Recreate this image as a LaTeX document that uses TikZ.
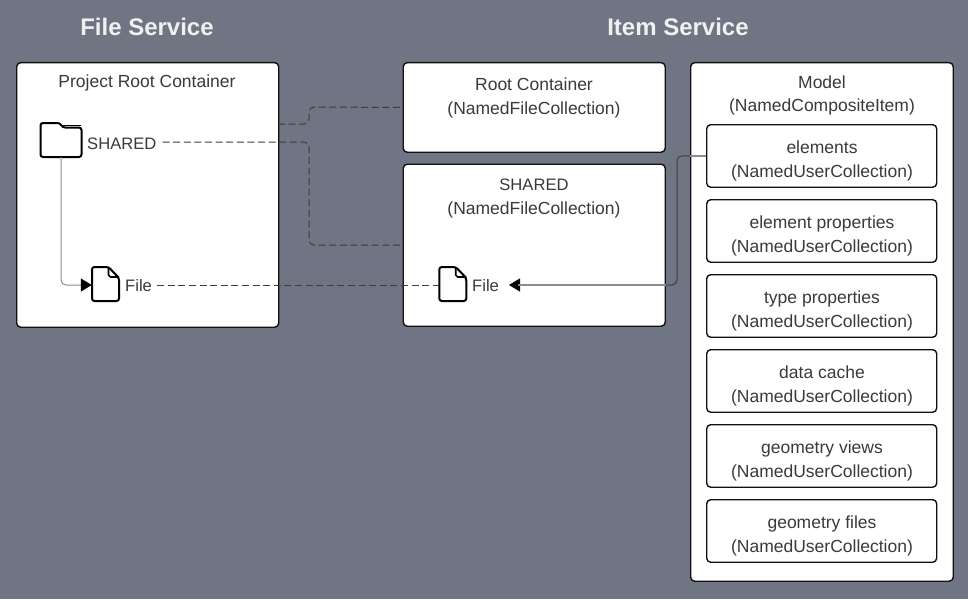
\documentclass[tikz,border=0pt]{standalone}
\usepackage{fontspec}
\setmainfont{Liberation Sans}
\usetikzlibrary{arrows.meta}
\definecolor{bgc}{HTML}{6F7582}
\definecolor{ink}{HTML}{3A3A3A}
\definecolor{edge}{HTML}{111111}
\definecolor{wire}{HTML}{3C3C3C}
\newcommand{\st}{\rule[-8pt]{0pt}{24pt}}
\tikzset{
  x=1pt,y=-1pt,
  box/.style={draw=edge,fill=white,line width=1.4pt,rounded corners=4pt,inner sep=0pt,anchor=north west},
  lbl/.style={text=ink,font=\fontsize{17.5}{24}\selectfont,align=center,inner sep=0pt},
  lblcap/.style={text=ink,font=\fontsize{16.6}{24}\selectfont,align=center,inner sep=0pt},
  ttl/.style={text=white!94!black,font=\fontsize{24}{28}\selectfont\bfseries,inner sep=0pt},
  iconbox/.style={inner sep=0pt,minimum width=27pt,minimum height=34pt},
  foldbox/.style={inner sep=0pt,minimum width=41pt,minimum height=34pt},
  icon/.style={draw=black,fill=white,line width=2pt,line join=round,rounded corners=2.5pt},
  dashwire/.style={draw=wire,line width=1pt,dash pattern=on 7pt off 3.6pt,rounded corners=5pt},
  solidwire/.style={draw=wire,line width=1pt,rounded corners=5pt,-{Triangle[length=11pt,width=13pt,fill=black,color=black]}},
  lightwire/.style={draw=black!45,line width=1.2pt},
}
\begin{document}
\begin{tikzpicture}
\path[use as bounding box,fill=bgc] (0,0) rectangle (968,599);
\node[ttl] (t1) at (147,27) {File Service};
\node[ttl] (t2) at (678,27) {Item Service};

\node[box,minimum width=262pt,minimum height=264.5pt] (proj) at (16,62) {};
\node[box,minimum width=262pt,minimum height=89.5pt] (root) at (402.5,62) {};
\node[box,minimum width=262pt,minimum height=162pt] (shared) at (402.5,163.5) {};
\node[box,minimum width=262.5pt,minimum height=518.5pt] (model) at (690,62) {};

\node[lbl] (projl) at (147,84) {\st Project Root Container};
\node[lbl] (rootl) at (534,98) {\st Root Container\\\st (NamedFileCollection)};
\node[lblcap] (sharedl1) at (534,186) {\st SHARED};
\node[lbl] (sharedl2) at (534,210) {\st (NamedFileCollection)};
\node[lbl] (modell) at (822,96) {\st Model\\\st (NamedCompositeItem)};

\foreach \nm/\ty/\txt in {elements/124/elements,elemprops/199/element properties,typeprops/274/type properties,datacache/349/data cache,geoviews/424/geometry views,geofiles/499/geometry files}{
  \node[box,minimum width=230pt,minimum height=62.5pt] (\nm) at (706,\ty) {};
  \node[lbl] (\nm l) at (822,\ty+37) {\st \txt\\\st (NamedUserCollection)};
}

% icons
\node[foldbox] (folder) at (61,140) {};
\draw[icon,shift={(folder.center)}] (-20.5,-17) -- (-1,-17) -- (1.5,-12.5) -- (20.5,-12.5) -- (20.5,17) -- (-20.5,17) -- cycle;
\draw[black,line width=1.6pt,shift={(folder.center)}] (1,-14.4) -- (20,-14.4);
\node[iconbox] (file1) at (105.5,284) {};
\node[iconbox] (file2) at (452.75,284) {};
\foreach \f in {file1,file2}{
  \draw[icon,shift={(\f.center)}] (-13.5,-17) -- (3,-17) -- (13.5,-6) -- (13.5,17) -- (-13.5,17) -- cycle;
  \draw[black,line width=1.6pt,line join=round,shift={(\f.center)}] (3,-17) -- (3,-9) -- (5,-7) -- (13.5,-7);
}
\node[lblcap,anchor=west] (sharedt) at (87,145.5) {\st SHARED};
\node[lblcap,anchor=west] (filet1) at (125,287.5) {\st File};
\node[lblcap,anchor=west] (filet2) at (472,287.5) {\st File};

\coordinate (projout) at (278,124);
\coordinate (tip2) at (509,285);

% connectors
\draw[dashwire] (projout) -- (309,124) -- (309,107) -- (root.west);
\draw[dashwire,shorten <=6pt] (sharedt.east |- 0,142) -- (309,142) -- (309,245) -- (shared.west);
\draw[dashwire,shorten <=5pt] (filet1.east |- tip2) -- (file2.west |- tip2);
\draw[solidwire,draw=black!45] (folder.south) |- (file1.west |- tip2);
\draw[solidwire] (elements.west) -- (677,155.75) -- (677,285) -- (tip2);
\draw[lightwire] (elements.west) -- (model.west |- elements.west);
\draw[lightwire] (shared.east |- tip2) -- ([xshift=9pt]tip2);
\end{tikzpicture}
\end{document}
